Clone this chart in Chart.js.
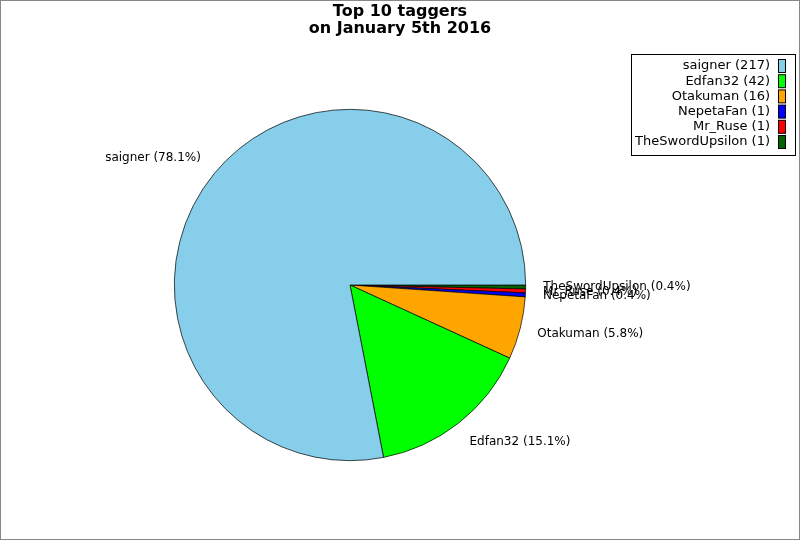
<!DOCTYPE html>
<html>
<head>
<meta charset="utf-8">
<script src="https://cdn.jsdelivr.net/npm/chart.js@4"></script>
<style>
  body { margin: 0; background: #fff; }
  #wrap { width: 800px; height: 540px; }
</style>
</head>
<body>
<div id="wrap"><canvas id="myChart" width="800" height="540"></canvas></div>
<script>
const taggers = ['saigner', 'Edfan32', 'Otakuman', 'NepetaFan', 'Mr_Ruse', 'TheSwordUpsilon']
const tagCounts = [217, 42, 16, 1, 1, 1]
const sliceColors = ['#87CEEB', '#00FF00', '#FFA500', '#0000FF', '#FF0000', '#006400']
const titleLines = ['Top 10 taggers', 'on January 5th 2016']

const total = tagCounts.reduce((a, b) => a + b, 0)

// matplotlib draws counterclockwise from 3 o'clock, chart.js goes clockwise -> reverse
const labelsRev = [...taggers].reverse()
const valuesRev = [...tagCounts].reverse()
const colorsRev = [...sliceColors].reverse()

const dibujarExtras = {
  id: 'extras',
  afterDraw(chart) {
    const ctx = chart.ctx
    ctx.save()

    // image frame
    ctx.strokeStyle = '#888'
    ctx.lineWidth = 1
    ctx.strokeRect(0.5, 0.5, 799, 539)

    // title
    ctx.fillStyle = '#000'
    ctx.font = 'bold 16px "DejaVu Sans"'
    ctx.textAlign = 'center'
    ctx.textBaseline = 'middle'
    ctx.fillText(titleLines[0], 400, 12)
    ctx.fillText(titleLines[1], 400, 29)

    // slice labels
    ctx.font = '12px "DejaVu Sans"'
    const arcs = chart.getDatasetMeta(0).data
    arcs.forEach((arc, i) => {
      const mid = (arc.startAngle + arc.endAngle) / 2
      const x = arc.x + Math.cos(mid) * arc.outerRadius * 1.1
      const y = arc.y + Math.sin(mid) * arc.outerRadius * 1.14
      const pct = (valuesRev[i] / total * 100).toFixed(1)
      ctx.textAlign = Math.cos(mid) > 0 ? 'left' : 'right'
      ctx.fillText(`${labelsRev[i]} (${pct}%)`, x, y)
    })

    // legend box
    ctx.font = '13px "DejaVu Sans"'
    ctx.fillStyle = '#fff'
    ctx.fillRect(631.5, 54.5, 164, 101)
    ctx.strokeStyle = '#000'
    ctx.strokeRect(631.5, 54.5, 164, 101)
    ctx.textAlign = 'right'
    taggers.forEach((name, i) => {
      const y = 66 + i * 15.2
      ctx.fillStyle = '#000'
      ctx.fillText(`${name} (${tagCounts[i]})`, 770, y)
      ctx.fillStyle = sliceColors[i]
      ctx.fillRect(778.5, y - 6.5, 7, 13)
      ctx.strokeStyle = '#000'
      ctx.strokeRect(778.5, y - 6.5, 7, 13)
    })
    ctx.restore()
  }
}

const config = {
  type: 'pie',
  data: {
    labels: labelsRev,
    datasets: [{
      data: valuesRev,
      backgroundColor: colorsRev,
      borderColor: '#000',
      borderWidth: 0.7
    }]
  },
  options: {
    responsive: false,
    animation: false,
    rotation: 90,
    layout: { padding: { left: 174, right: 274, top: 109, bottom: 79 } },
    plugins: {
      legend: { display: false },
      title: { display: false },
      tooltip: { enabled: false }
    }
  },
  plugins: [dibujarExtras]
}

const myChart = new Chart(document.getElementById('myChart'), config)
</script>
</body>
</html>
